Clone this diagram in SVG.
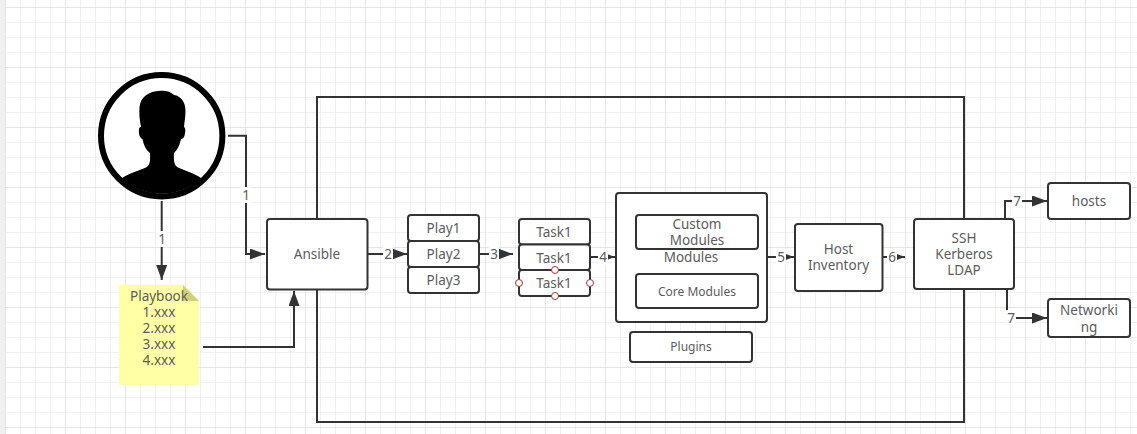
<svg xmlns="http://www.w3.org/2000/svg" width="1137" height="434" viewBox="0 0 1137 434">
<defs>
<pattern id="minor" width="15" height="15" patternUnits="userSpaceOnUse" x="5" y="7">
<path d="M0.5 0V15M0 0.5H15" fill="none" stroke="#f0f0f0" stroke-width="1"/>
</pattern>
<pattern id="major" width="60" height="60" patternUnits="userSpaceOnUse" x="5" y="7">
<path d="M0.5 0V60M0 0.5H60" fill="none" stroke="#e6e6e6" stroke-width="1"/>
</pattern>
<marker id="arrow" markerUnits="userSpaceOnUse" markerWidth="16" markerHeight="12" refX="15" refY="5.5" orient="auto">
<path d="M0 0L15 5.5L0 11z" fill="#333"/>
</marker>
<marker id="arrowS" markerUnits="userSpaceOnUse" markerWidth="12" markerHeight="8" refX="9.5" refY="3.5" orient="auto">
<path d="M0 0L9.500 3.500L0 7z" fill="#333"/>
</marker>
</defs>
<style>
.box{fill:#fff;stroke:#333;stroke-width:2}
.frame{fill:none;stroke:#333;stroke-width:2}
.c{fill:none;stroke:#333;stroke-width:2}
.a{marker-end:url(#arrow)}
.s{marker-end:url(#arrowS)}
text{font-family:"Noto Sans","Open Sans","Liberation Sans",sans-serif;font-size:13.5px;fill:#5c5c5c;text-anchor:middle}
.lb{fill:#fff;stroke:none}
.h{fill:#fff;stroke:#a33333;stroke-width:1}
</style>
<rect width="1137" height="434" fill="#fff"/>
<rect width="1137" height="434" fill="url(#minor)"/>
<rect width="1137" height="434" fill="url(#major)"/>
<rect width="5" height="434" fill="#f0f0f0"/>
<rect id="frame" class="frame" x="317" y="97" width="647" height="325"/>
<g id="connectors">
<path class="c a" d="M228 135.7H246V254H265"/>
<path class="c a" d="M161.7 201V280"/>
<path class="c a" d="M203 347H294V291"/>
<path class="c a" d="M368 254H407"/>
<path class="c a" d="M480 254H513"/>
<path class="c s" d="M591 257H615"/>
<path class="c s" d="M767 257H794"/>
<path class="c s" d="M883 257H905"/>
<path class="c a" d="M1005 218V201H1047"/>
<path class="c a" d="M1007 290V318H1047"/>
<rect class="lb" x="241" y="187" width="10" height="16"/><text x="246" y="200">1</text>
<rect class="lb" x="157" y="231" width="10" height="16"/><text x="162" y="244">1</text>
<rect class="lb" x="383" y="246" width="10" height="16"/><text x="388" y="259">2</text>
<rect class="lb" x="489" y="246" width="10" height="16"/><text x="494" y="259">3</text>
<rect class="lb" x="598" y="249" width="10" height="16"/><text x="603" y="262">4</text>
<rect class="lb" x="776" y="249" width="10" height="16"/><text x="781" y="262">5</text>
<rect class="lb" x="887" y="249" width="10" height="16"/><text x="892" y="262">6</text>
<rect class="lb" x="1012" y="193" width="10" height="16"/><text x="1017" y="206">7</text>
<rect class="lb" x="1006" y="310" width="10" height="16"/><text x="1011" y="323">7</text>
</g>
<g id="user">
<circle cx="161.7" cy="135.7" r="60.7" fill="#fff" stroke="#000" stroke-width="6"/>
<path fill="#000" d="M121.500 178.500C128 173.500 138 171 146 167.500C150 165.500 150.500 160 150 153C146 150 143.500 145 142.500 139C139.500 138 138.500 133 139 129C139.500 127 140.500 127 141 127C139.500 120 139 113 139.500 107C140.500 97 149 91 160 90.700C167 90.500 171 92 174 95C181 96 185.500 102 185.500 111C185.500 116 184.500 122 184 127C186 128 185.500 134 184 137C182.500 139 181.500 139 181 139C180 145 177 150 174 153C173.500 160 174 165.500 178 167.500C186 171 195 173.500 201.800 178.500A60.700 60.700 0 0 1 121.500 178.500Z"/>
</g>
<g id="playbook">
<path d="M119 285H183L199 301V385H119Z" fill="#ffffa6"/>
<path d="M183 285L199 301H183Z" fill="#cfcf80"/>
<text x="159" y="301">Playbook</text>
<text x="159" y="317">1.xxx</text>
<text x="159" y="333">2.xxx</text>
<text x="159" y="349">3.xxx</text>
<text x="159" y="365">4.xxx</text>
</g>
<g id="ansible"><rect class="box" x="267" y="219" width="100.500" height="70.500" rx="3"/><text x="317" y="259">Ansible</text></g>
<g id="play1"><rect class="box" x="408" y="215" width="71" height="26" rx="3"/><text x="443.500" y="233">Play1</text></g>
<g id="play2"><rect class="box" x="408" y="241" width="71" height="26" rx="3"/><text x="443.500" y="259">Play2</text></g>
<g id="play3"><rect class="box" x="408" y="267" width="71" height="26" rx="3"/><text x="443.500" y="285">Play3</text></g>
<g id="task1"><rect class="box" x="519" y="219" width="71" height="25.500" rx="3"/><text x="554" y="237">Task1</text></g>
<g id="task2"><rect class="box" x="519" y="244.500" width="71" height="25.500" rx="3"/><text x="554" y="262.500">Task1</text></g>
<g id="task3"><rect class="box" x="519" y="270" width="71" height="26" rx="3"/><text x="554" y="288">Task1</text>
<circle class="h" cx="555" cy="270" r="3.500"/><circle class="h" cx="519" cy="283" r="3.500"/><circle class="h" cx="590" cy="283" r="3.500"/><circle class="h" cx="555" cy="296" r="3.500"/></g>
<g id="modules"><rect class="box" x="616" y="193" width="151" height="129" rx="3"/><text x="691" y="262">Modules</text></g>
<g id="custom-modules"><rect class="box" x="636" y="215" width="122" height="34" rx="3"/><text x="697" y="229">Custom</text><text x="697" y="245">Modules</text></g>
<g id="core-modules"><rect class="box" x="636" y="274" width="122" height="34" rx="3"/><text x="697" y="296" style="font-size:12px">Core Modules</text></g>
<g id="plugins"><rect class="box" x="630" y="332" width="122" height="30" rx="3"/><text x="691" y="351" style="font-size:12px">Plugins</text></g>
<g id="host-inventory"><rect class="box" x="795" y="224" width="87.500" height="67" rx="3"/><text x="838.500" y="254">Host</text><text x="838.500" y="270">Inventory</text></g>
<g id="ssh"><rect class="box" x="914" y="219" width="100" height="70" rx="3"/><text x="964" y="243">SSH</text><text x="964" y="259">Kerberos</text><text x="964" y="275">LDAP</text></g>
<g id="hosts"><rect class="box" x="1048" y="183" width="82" height="36" rx="3"/><text x="1089" y="206">hosts</text></g>
<g id="networking"><rect class="box" x="1048" y="299" width="82" height="38" rx="3"/><text x="1089" y="315">Networki</text><text x="1089" y="332">ng</text></g>
</svg>
